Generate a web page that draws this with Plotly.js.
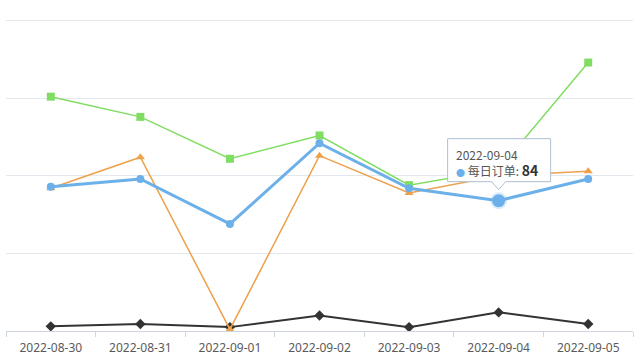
<!DOCTYPE html>
<html>
<head>
<meta charset="utf-8">
<script src="https://cdn.plot.ly/plotly-3.0.1.min.js"></script>
<style>html,body{margin:0;padding:0;background:#fff;}#chart{width:640px;height:360px;}</style>
</head>
<body>
<div id="chart"></div>
<script>
var dates = ['2022-08-30','2022-08-31','2022-09-01','2022-09-02','2022-09-03','2022-09-04','2022-09-05'];
var seriesGreen = [151, 138, 111, 126, 94, 104, 173];
var seriesOrange = [92, 112, 1, 113, 89, 100, 103];
var orders = [93, 98, 69, 121, 92, 84, 98];
var seriesBlack = [3, 4.5, 2.5, 10, 2.5, 12, 4.5];
var orderName = '每日订单';
var hoverIndex = 5;

var blue = '#6cb0ea';
var traces = [
  {x: dates, y: seriesBlack, type: 'scatter', mode: 'lines+markers',
   line: {color: '#333333', width: 2}, marker: {symbol: 'diamond', size: 8, color: '#333333'}},
  {x: dates, y: seriesOrange, type: 'scatter', mode: 'lines+markers',
   line: {color: '#eea04a', width: 1.5}, marker: {symbol: 'triangle-up', size: 8, color: '#eea04a'}},
  {x: dates, y: seriesGreen, type: 'scatter', mode: 'lines+markers',
   line: {color: '#80dd62', width: 1.5}, marker: {symbol: 'square', size: 8, color: '#80dd62'}},
  {x: dates, y: orders, type: 'scatter', mode: 'lines+markers', name: orderName,
   line: {color: blue, width: 3}, marker: {symbol: 'circle', size: 8, color: blue}},
  {x: [dates[hoverIndex]], y: [orders[hoverIndex]], type: 'scatter', mode: 'markers',
   marker: {symbol: 'circle', size: 13, color: blue, line: {color: 'rgba(108,176,234,0.25)', width: 4}}}
];

var layout = {
  width: 640, height: 360,
  margin: {l: 6, r: 7, t: 16, b: 29},
  paper_bgcolor: '#ffffff', plot_bgcolor: '#ffffff',
  showlegend: false,
  font: {family: 'Noto Sans, sans-serif', size: 12, color: '#555'},
  xaxis: {
    type: 'category', tickson: 'boundaries', ticks: 'outside', ticklen: 5, tickcolor: '#cfd6e0',
    showline: true, linecolor: '#cfd6e0', linewidth: 1, showgrid: false, zeroline: false,
    ticklabelstandoff: 6,
    tickfont: {family: 'Noto Sans, sans-serif', size: 12, color: '#5a5a5a'},
    range: [-0.5, 6.5], fixedrange: true
  },
  yaxis: {
    range: [0, 203], tickvals: [50, 100, 150, 200], showticklabels: false, showgrid: true,
    gridcolor: '#e3e7ee', gridwidth: 1, zeroline: false, showline: false, fixedrange: true
  },
  shapes: [{
    type: 'path', xref: 'x', yref: 'y', layer: 'above',
    xsizemode: 'pixel', ysizemode: 'pixel',
    xanchor: dates[hoverIndex], yanchor: orders[hoverIndex],
    path: 'M-51,19 L-7,19 L0,11 L7,19 L52,19 L52,62 L-51,62 Z',
    fillcolor: 'rgba(255,255,255,0.96)', line: {color: '#aebfd2', width: 1}
  }],
  annotations: [{
    x: dates[hoverIndex], y: orders[hoverIndex], xref: 'x', yref: 'y',
    showarrow: false, xanchor: 'left', yanchor: 'middle', xshift: -45, yshift: 38,
    align: 'left',
    text: dates[hoverIndex] + '<br><span style="color:' + blue + ';font-size:9px">●</span> ' + orderName + ': <b><span style="font-size:14px;color:#333">' + orders[hoverIndex] + '</span></b>',
    font: {family: 'Noto Sans CJK SC, Noto Sans, sans-serif', size: 12, color: '#555'}
  }]
};

Plotly.newPlot('chart', traces, layout, {displayModeBar: false, staticPlot: true});
</script>
</body>
</html>
